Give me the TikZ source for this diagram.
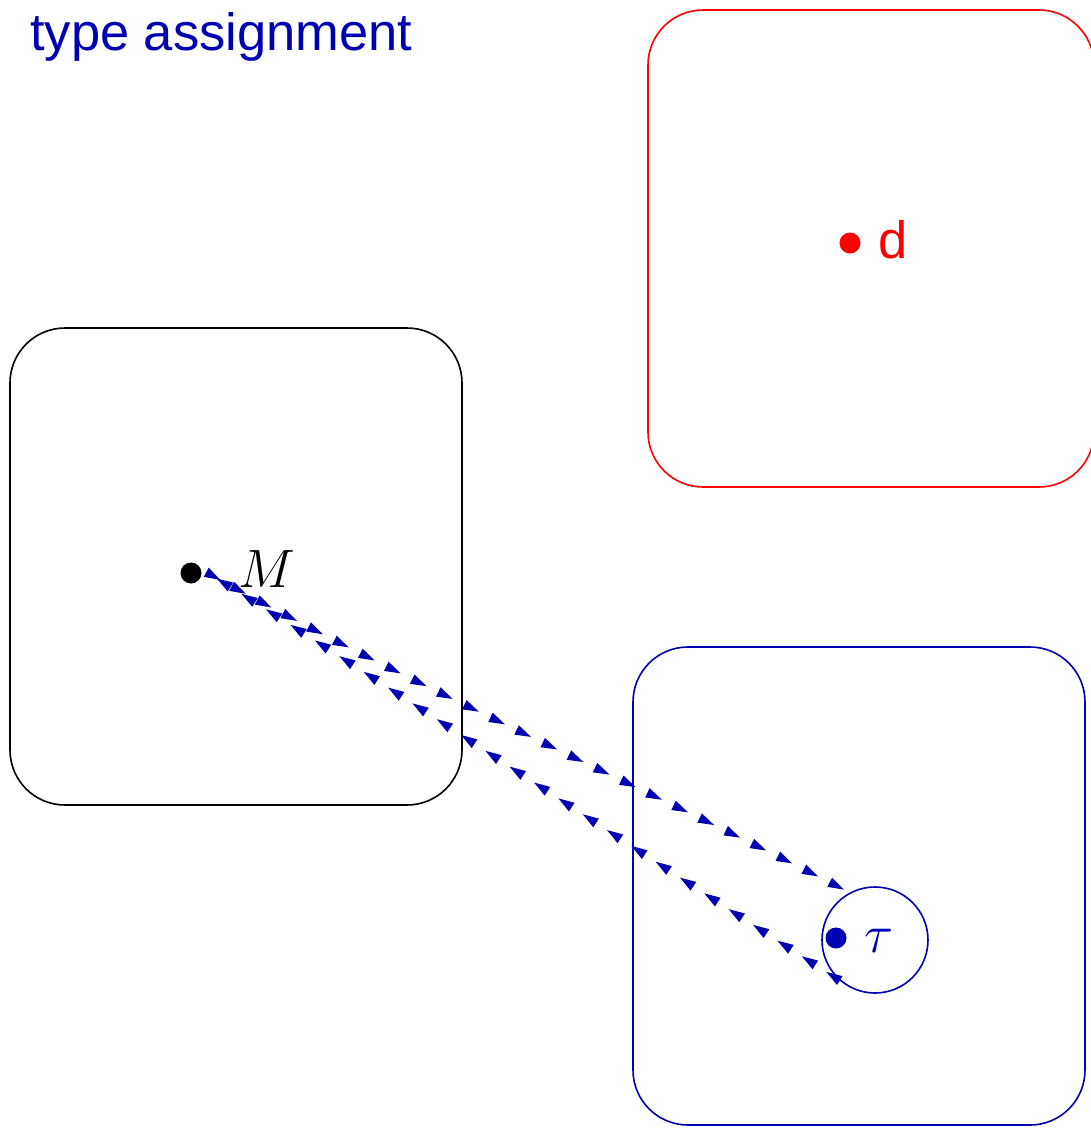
\RequirePackage{fix-cm}
\documentclass[tikz,border=0pt]{standalone}
\usepackage{fontspec}
\setmainfont{Liberation Sans}
\usetikzlibrary{decorations.markings}
\definecolor{tblue}{RGB}{0,0,178}
\definecolor{tred}{RGB}{255,0,0}
\tikzset{
  regionbox/.style={draw, line width=1.6pt, rounded corners=55pt, minimum width=#1, inner sep=0pt},
  dotnode/.style={circle, inner sep=0pt, minimum size=21pt},
  bigtext/.style={font=\fontsize{52.5}{60}\selectfont, inner sep=0pt},
  mathtext/.style={font=\fontsize{54}{60}\selectfont, inner sep=0pt},
  headmarks/.style={postaction={decorate}, decoration={markings,
    mark=between positions 0.02 and 1 step 29pt with {\fill[tblue] (0pt,0pt) -- (-16pt,5.2pt) -- (-16pt,-5.2pt) -- cycle;},
    mark=at position 1 with {\fill[tblue] (0pt,0pt) -- (-16pt,5.2pt) -- (-16pt,-5.2pt) -- cycle;}}}
}
\begin{document}
\begin{tikzpicture}[x=1pt,y=-1pt]
\useasboundingbox (0,0) rectangle (1091,1128);
\clip (0,0) rectangle (1091,1128);
% title
\node[bigtext, text=tblue, anchor=base west] (title) at (30,50) {type assignment};
% boxes
\node[regionbox=446pt, draw=tred, minimum height=477pt] (dbox) at (871,248.5) {};
\node[regionbox=452pt, draw=black, minimum height=477pt] (mbox) at (236,566.5) {};
\node[regionbox=452pt, draw=tblue, minimum height=478pt] (tbox) at (859,886) {};
% dots and labels
\node[dotnode, fill=tred] (d) at (850,243) {};
\node[bigtext, text=tred, anchor=base west] (dlab) at (878,258) {d};
\node[dotnode, fill=black] (M) at (191,573) {};
\node[mathtext, anchor=base west] (Mlab) at (238,587) {$M$};
\node[circle, draw=tblue, line width=1.6pt, minimum size=106pt, inner sep=0pt] (tauc) at (875,940) {};
\node[dotnode, fill=tblue] (tau) at (836,938) {};
\node[mathtext, text=tblue, anchor=base west] (taulab) at (864,952) {$\tau$};
% connectors
\coordinate (Mstart) at ([xshift=6pt]M.east);
\path[headmarks] (Mstart) .. controls (400,680) and (650,790) .. (tauc.118);
\path[headmarks] (tauc.228) .. controls (650,860) and (350,660) .. (Mstart);
\end{tikzpicture}
\end{document}
